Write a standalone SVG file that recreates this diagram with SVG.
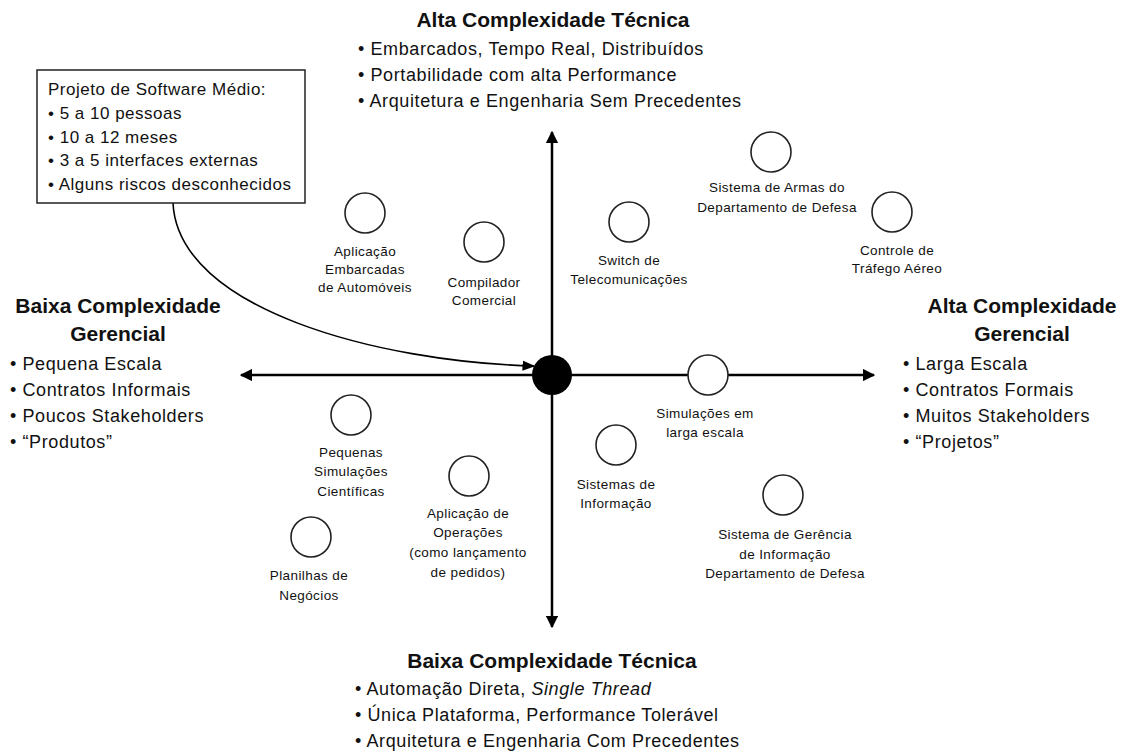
<svg xmlns="http://www.w3.org/2000/svg" width="1128" height="753" viewBox="0 0 1128 753">
  <style>
    text { font-family: "Liberation Sans", Arial, sans-serif; fill: #111; }
    .hd { font-size: 21px; font-weight: bold; text-anchor: middle; }
    .bl { font-size: 18px; letter-spacing: 0.6px; }
    .bx { font-size: 17px; letter-spacing: 0.5px; }
    .lb { font-size: 13.5px; letter-spacing: 0.4px; text-anchor: middle; }
    .node { fill: #fff; stroke: #222; stroke-width: 1.6; }
    .axis { fill: none; stroke: #000; stroke-width: 2.5; }
  </style>
  <defs>
    <marker id="arr" viewBox="0 0 10 10" refX="9" refY="5" markerWidth="5" markerHeight="5" orient="auto" markerUnits="strokeWidth">
      <path d="M0,0 L10,5 L0,10 z" fill="#000"/>
    </marker>
    <marker id="arrThin" viewBox="0 0 10 10" refX="9" refY="5" markerWidth="8" markerHeight="8" orient="auto" markerUnits="strokeWidth">
      <path d="M0,1 L10,5 L0,9 z" fill="#000"/>
    </marker>
  </defs>

  <!-- axes and pointer -->
  <g id="connectors">
    <line class="axis" x1="552" y1="375" x2="552" y2="132" marker-end="url(#arr)"/>
    <line class="axis" x1="552" y1="375" x2="552" y2="627" marker-end="url(#arr)"/>
    <line class="axis" x1="552" y1="375" x2="241" y2="375" marker-end="url(#arr)"/>
    <line class="axis" x1="552" y1="375" x2="874" y2="375" marker-end="url(#arr)"/>
    <path d="M173,203 C178,310 380,362 534,366" fill="none" stroke="#000" stroke-width="1.6" marker-end="url(#arrThin)"/>
  </g>

  <!-- origin -->
  <g id="origin">
    <circle cx="552" cy="375" r="20" fill="#000"/>
  </g>

  <!-- axis headings -->
  <g id="top-heading">
    <text class="hd" x="553" y="27">Alta Complexidade Técnica</text>
    <text class="bl" x="358" y="55">• Embarcados, Tempo Real, Distribuídos</text>
    <text class="bl" x="358" y="81">• Portabilidade com alta Performance</text>
    <text class="bl" x="358" y="107">• Arquitetura e Engenharia Sem Precedentes</text>
  </g>
  <g id="bottom-heading">
    <text class="hd" x="552" y="668">Baixa Complexidade Técnica</text>
    <text class="bl" x="355" y="695">• Automação Direta, <tspan font-style="italic">Single Thread</tspan></text>
    <text class="bl" x="355" y="721">• Única Plataforma, Performance Tolerável</text>
    <text class="bl" x="355" y="747">• Arquitetura e Engenharia Com Precedentes</text>
  </g>
  <g id="left-heading">
    <text class="hd" x="118" y="313">Baixa Complexidade</text>
    <text class="hd" x="118" y="341">Gerencial</text>
    <text class="bl" x="10" y="370">• Pequena Escala</text>
    <text class="bl" x="10" y="396">• Contratos Informais</text>
    <text class="bl" x="10" y="422">• Poucos Stakeholders</text>
    <text class="bl" x="10" y="448">• “Produtos”</text>
  </g>
  <g id="right-heading">
    <text class="hd" x="1022" y="313">Alta Complexidade</text>
    <text class="hd" x="1022" y="341">Gerencial</text>
    <text class="bl" x="903" y="370">• Larga Escala</text>
    <text class="bl" x="903" y="396">• Contratos Formais</text>
    <text class="bl" x="903" y="422">• Muitos Stakeholders</text>
    <text class="bl" x="903" y="448">• “Projetos”</text>
  </g>

  <!-- callout box -->
  <g id="medium-project">
    <rect x="37" y="70" width="268" height="133" fill="#fff" stroke="#222" stroke-width="1.5"/>
    <text class="bx" x="48" y="95">Projeto de Software Médio:</text>
    <text class="bx" x="48" y="119">• 5 a 10 pessoas</text>
    <text class="bx" x="48" y="143">• 10 a 12 meses</text>
    <text class="bx" x="48" y="166">• 3 a 5 interfaces externas</text>
    <text class="bx" x="48" y="190">• Alguns riscos desconhecidos</text>
  </g>

  <!-- project types -->
  <g id="n-automoveis">
    <circle class="node" cx="365" cy="213" r="20"/>
    <text class="lb" x="365" y="256">Aplicação</text>
    <text class="lb" x="365" y="274">Embarcadas</text>
    <text class="lb" x="365" y="292">de Automóveis</text>
  </g>
  <g id="n-compilador">
    <circle class="node" cx="484" cy="242" r="20"/>
    <text class="lb" x="484" y="287">Compilador</text>
    <text class="lb" x="484" y="305">Comercial</text>
  </g>
  <g id="n-switch">
    <circle class="node" cx="629" cy="222" r="20"/>
    <text class="lb" x="629" y="265">Switch de</text>
    <text class="lb" x="629" y="284">Telecomunicações</text>
  </g>
  <g id="n-armas">
    <circle class="node" cx="771" cy="152" r="20"/>
    <text class="lb" x="777" y="192">Sistema de Armas do</text>
    <text class="lb" x="777" y="212">Departamento de Defesa</text>
  </g>
  <g id="n-trafego">
    <circle class="node" cx="892" cy="212" r="20"/>
    <text class="lb" x="897" y="255">Controle de</text>
    <text class="lb" x="897" y="273">Tráfego Aéreo</text>
  </g>
  <g id="n-simulacoes">
    <circle class="node" cx="708" cy="375" r="20"/>
    <text class="lb" x="705" y="418">Simulações em</text>
    <text class="lb" x="705" y="437">larga escala</text>
  </g>
  <g id="n-informacao">
    <circle class="node" cx="616" cy="445" r="20"/>
    <text class="lb" x="616" y="489">Sistemas de</text>
    <text class="lb" x="616" y="508">Informação</text>
  </g>
  <g id="n-gerencia">
    <circle class="node" cx="783" cy="495" r="20"/>
    <text class="lb" x="785" y="539">Sistema de Gerência</text>
    <text class="lb" x="785" y="559">de Informação</text>
    <text class="lb" x="785" y="578">Departamento de Defesa</text>
  </g>
  <g id="n-cientificas">
    <circle class="node" cx="351" cy="415" r="20"/>
    <text class="lb" x="351" y="457">Pequenas</text>
    <text class="lb" x="351" y="476">Simulações</text>
    <text class="lb" x="351" y="496">Científicas</text>
  </g>
  <g id="n-operacoes">
    <circle class="node" cx="469" cy="476" r="20"/>
    <text class="lb" x="468" y="518">Aplicação de</text>
    <text class="lb" x="468" y="537">Operações</text>
    <text class="lb" x="468" y="557">(como lançamento</text>
    <text class="lb" x="468" y="577">de pedidos)</text>
  </g>
  <g id="n-planilhas">
    <circle class="node" cx="311" cy="537" r="20"/>
    <text class="lb" x="309" y="580">Planilhas de</text>
    <text class="lb" x="309" y="600">Negócios</text>
  </g>
</svg>
